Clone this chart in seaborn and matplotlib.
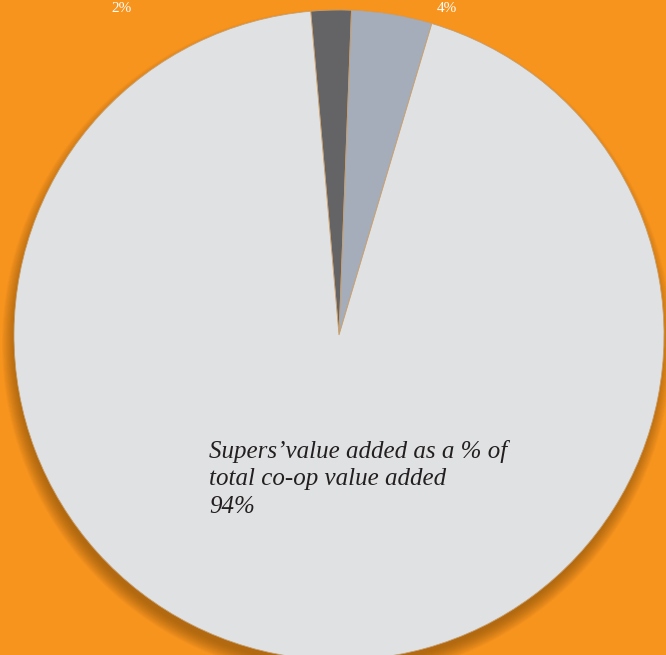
import matplotlib
matplotlib.use("Agg")
import matplotlib.pyplot as plt
from matplotlib.patches import Circle
import seaborn as sns

# Share of total co-op value added
labels = ["Other A", "Other B", "Supers"]
shares = [2, 4, 94]
pct_labels = ["2%", "4%", "94%"]
colors = ["#646466", "#a5adba", "#e0e1e2"]

caption = "Supers\u2019value added as a % of\ntotal co-op value added\n94%"

sns.set_theme(style="white")
plt.rcParams["font.family"] = ["Liberation Serif", "DejaVu Serif"]

BG = "#f7941e"
W, H = 666, 655
fig = plt.figure(figsize=(W / 100, H / 100), dpi=100, facecolor=BG)
ax = fig.add_axes([0, 0, 1, 1])
ax.set_facecolor(BG)

cx, cy, r = 339, H - 335, 325

# soft drop shadow under the disc, thrown downward
n = 16
for i in range(n):
    rr = r + 10 - i * 0.9
    ax.add_patch(Circle((cx - 2, cy - 9), rr, facecolor="#7a4a10",
                        edgecolor="none", alpha=0.045, zorder=1))

wedges, _ = ax.pie(shares, colors=colors, startangle=95, counterclock=False,
                   center=(cx, cy), radius=r, frame=True,
                   wedgeprops=dict(edgecolor="#c8a070", linewidth=0.6))
for w in wedges:
    w.set_zorder(2)
ax.set_xlim(0, W)
ax.set_ylim(0, H)
ax.set_aspect("equal")
ax.axis("off")

# small slice labels along the top edge
ax.text(122, H - 2, pct_labels[0], color="white", fontsize=11,
        ha="center", va="top", zorder=3)
ax.text(447, H - 2, pct_labels[1], color="white", fontsize=11,
        ha="center", va="top", zorder=3)

ax.text(209, H - 440, caption, color="#231f20", fontsize=18, style="italic",
        ha="left", va="top", linespacing=1.32, zorder=3)

fig.savefig("out.png", dpi=100, facecolor=BG)
